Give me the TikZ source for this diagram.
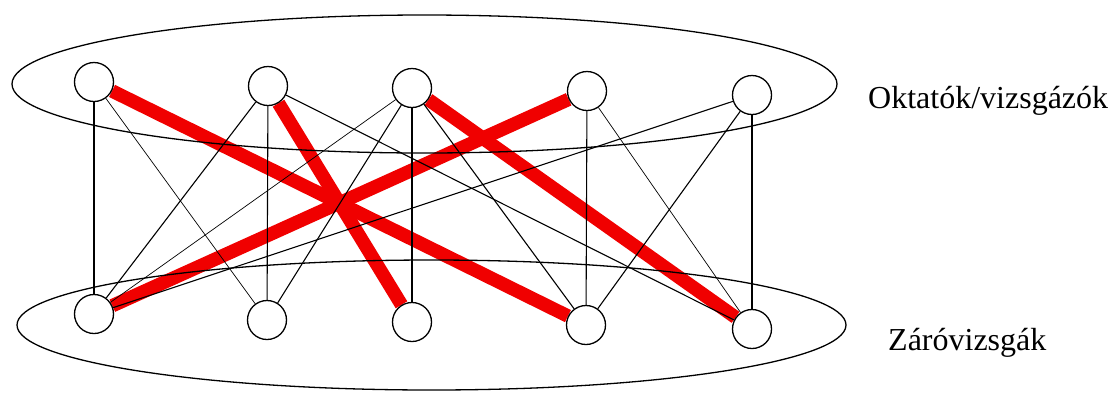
\documentclass[tikz,border=0pt]{standalone}
\usepackage{fontspec}
\setmainfont{Liberation Serif}
\pgfdeclarelayer{background}
\pgfsetlayers{background,main}
\begin{document}
\begin{tikzpicture}[x=1pt,y=-1pt,
  vtx/.style={circle,draw=black,line width=1.3pt,fill=white,minimum size=39pt,inner sep=0pt},
  redge/.style={draw={rgb,255:red,240;green,0;blue,0},line width=13.5pt},
  bedge/.style={draw=black,line width=1.1pt},
  tedge/.style={draw=black,line width=0.7pt},
  grp/.style={draw=black,line width=1.3pt},
  lbl/.style={inner sep=0pt,anchor=base west,font=\fontsize{32}{38}\selectfont}]
\useasboundingbox (0,0) rectangle (1120,392);
% vertices
\node[vtx] (T1) at (94,82) {};
\node[vtx] (T2) at (268,86) {};
\node[vtx] (T3) at (412,88) {};
\node[vtx] (T4) at (587,91) {};
\node[vtx] (T5) at (752,95) {};
\node[vtx] (B1) at (94,314) {};
\node[vtx] (B2) at (267,320) {};
\node[vtx] (B3) at (412,322) {};
\node[vtx] (B4) at (586,325) {};
\node[vtx] (B5) at (752,329) {};
\begin{pgfonlayer}{background}
% red matching
\path[redge] (T1) -- (B4);
\path[redge] (T2) -- (B3);
\path[redge] (T3) -- (B5);
\path[redge] (T4) -- (B1);
% black edges
\path[bedge] (T1) -- (B1);
\path[tedge] (T1) -- (B2);
\path[bedge] (T2) -- (B1);
\path[bedge] (T2) -- (B2);
\path[bedge] (T2) -- (B5);
\path[tedge] (T3) -- (B1);
\path[bedge] (T3) -- (B2);
\path[bedge] (T3) -- (B3);
\path[bedge] (T3) -- (B4);
\path[bedge] (T4) -- (B4);
\path[tedge] (T4) -- (B5);
\path[bedge] (T5) -- (B1);
\path[bedge] (T5) -- (B4);
\path[bedge] (T5) -- (B5);
% groups
\draw[grp] (424.5,84) ellipse [x radius=412.5pt, y radius=69pt];
\draw[grp] (431.5,325) ellipse [x radius=414.5pt, y radius=65pt];
\end{pgfonlayer}
% labels
\node[lbl] (lt) at (868,108) {Oktatók/vizsgázók};
\node[lbl] (lb) at (888,350) {Záróvizsgák};
\end{tikzpicture}
\end{document}
